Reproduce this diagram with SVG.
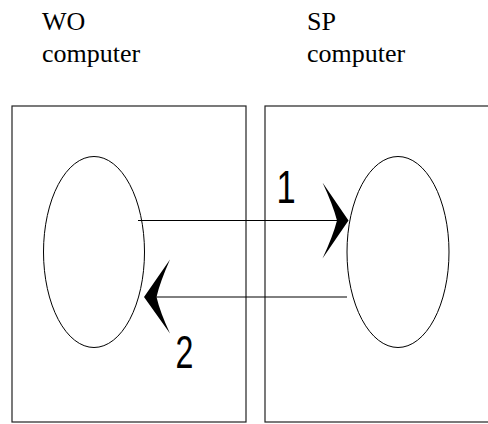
<svg xmlns="http://www.w3.org/2000/svg" width="488" height="424" viewBox="0 0 488 424">
<style>
.title{font-family:"Liberation Serif","Times New Roman",serif;font-size:26px;fill:#000}
.num{font-family:"Liberation Sans",Arial,sans-serif;font-size:46px;fill:#000}
.box{fill:#fff;stroke:#222;stroke-width:1.2}
.ell{fill:none;stroke:#000;stroke-width:1}
.line{stroke:#000;stroke-width:1;fill:none}
.head{fill:#000;stroke:none}
</style>
<rect width="488" height="424" fill="#fff"/>
<g id="wo-computer">
<rect class="box" x="12" y="106" width="234" height="316"/>
<text class="title" x="42" y="30">WO</text>
<text class="title" x="42" y="62">computer</text>
<ellipse class="ell" cx="94" cy="252" rx="50.5" ry="95.5"/>
</g>
<g id="sp-computer">
<rect class="box" x="265" y="106" width="240" height="316"/>
<text class="title" x="307" y="30">SP</text>
<text class="title" x="307" y="62">computer</text>
<ellipse class="ell" cx="398" cy="252" rx="51" ry="95.5"/>
</g>
<g id="connectors">
<g id="arrow-1">
<line class="line" x1="138" y1="220.5" x2="340" y2="220.5"/>
<path class="head" d="M348.5,220.5 L322.5,182.5 Q333,205 337,220.5 Q333,236 322.5,258.5 Z"/>
<text class="num" transform="translate(286,203) scale(0.75,1)" text-anchor="middle">1</text>
</g>
<g id="arrow-2">
<line class="line" x1="155" y1="297" x2="347" y2="297"/>
<path class="head" d="M144,297 L170,259.5 Q160,282 156.5,297 Q160,312 170,333.5 Z"/>
<text class="num" transform="translate(184.5,368) scale(0.7,1)" text-anchor="middle">2</text>
</g>
</g>
</svg>
